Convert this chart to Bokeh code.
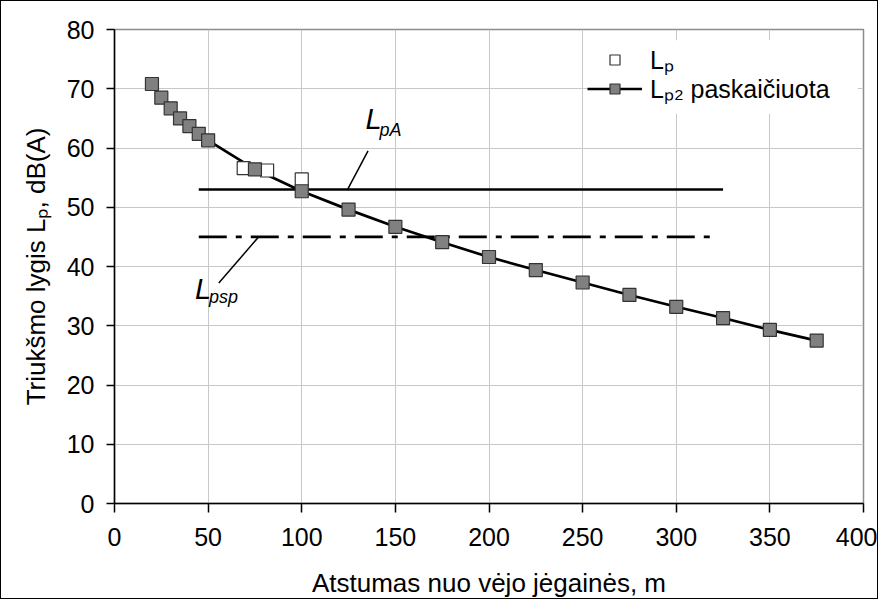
from bokeh.plotting import figure
from bokeh.models import Legend, LegendItem, Label, Range1d, FixedTicker, BoxAnnotation
from bokeh.embed import file_html
from bokeh.resources import INLINE

# ---- data ----
x_ticks = [0, 50, 100, 150, 200, 250, 300, 350, 400]
y_ticks = [0, 10, 20, 30, 40, 50, 60, 70, 80]

dist_calc = [20, 25, 30, 35, 40, 45, 50, 75, 100, 125, 150, 175, 200, 225, 250, 275, 300, 325, 350, 375]
lp2_calc = [70.8, 68.5, 66.7, 65.0, 63.7, 62.4, 61.3, 56.4, 52.7, 49.6, 46.7, 44.1, 41.6, 39.4, 37.3,
            35.2, 33.2, 31.3, 29.3, 27.5]

dist_meas = [69, 81.5, 100]
lp_meas = [56.6, 56.2, 54.7]

lpa_x = [45, 325]
lpa_y = [53, 53]
lpsp_x = [45, 320]
lpsp_y = [45, 45]

FONT = "Liberation Sans"

p = figure(width=878, height=599, output_backend="svg", toolbar_location=None,
           x_range=Range1d(0, 400), y_range=Range1d(0, 80),
           min_border_left=113, min_border_right=16, min_border_top=28, min_border_bottom=97)
p.styles = {"border": "1px solid black"}
p.background_fill_color = "white"
p.border_fill_color = "white"
p.outline_line_color = "#8c8c8c"
p.outline_line_width = 1.5

# axes
for ax in (p.xaxis, p.yaxis):
    ax.axis_line_color = "black"
    ax.axis_line_width = 1.5
    ax.major_tick_line_color = "black"
    ax.major_tick_line_width = 1.5
    ax.major_tick_in = 0
    ax.minor_tick_line_color = None
    ax.major_label_text_font = FONT
    ax.major_label_text_font_size = "25px"
    ax.major_label_text_color = "black"
    ax.axis_label_text_font = FONT
    ax.axis_label_text_font_style = "normal"
    ax.axis_label_text_color = "black"

p.xaxis.ticker = FixedTicker(ticks=x_ticks)
p.yaxis.ticker = FixedTicker(ticks=y_ticks)
p.xaxis.major_tick_out = 9
p.yaxis.major_tick_out = 8
p.xaxis.major_label_standoff = 15
p.yaxis.major_label_standoff = 12
p.xaxis.axis_label = "Atstumas nuo vėjo jėgainės, m"
p.yaxis.axis_label = "Triukšmo lygis Lₚ, dB(A)"
p.xaxis.axis_label_text_font_size = "26px"
p.yaxis.axis_label_text_font_size = "26px"
p.xaxis.axis_label_standoff = 19
p.yaxis.axis_label_standoff = 13

p.xgrid.ticker = FixedTicker(ticks=x_ticks)
p.ygrid.ticker = FixedTicker(ticks=y_ticks)
p.grid.grid_line_color = "#c8c8c8"
p.grid.grid_line_width = 1

# reference lines
p.line(lpa_x, lpa_y, line_color="black", line_width=2.5)
p.line(lpsp_x, lpsp_y, line_color="black", line_width=2.8, line_dash="28 9 6 9")

# calculated line + measured + calculated markers
calc_line = p.line(dist_calc, lp2_calc, line_color="black", line_width=2.7)
meas = p.scatter(dist_meas, lp_meas, marker="square", size=13, fill_color="white",
                 line_color="#333333", line_width=1.2)
calc_pts = p.scatter(dist_calc, lp2_calc, marker="square", size=13, fill_color="#808080",
                     line_color="#333333", line_width=1.2)

# leader lines for annotations
p.segment(x0=[135.4, 76.7], y0=[59.5, 44.9], x1=[124.3, 55.7], y1=[52.9, 37.2],
          line_color="black", line_width=1.5)

# annotation labels
p.add_layout(Label(x=134, y=62.3, y_offset=15, text="L", text_font=FONT, text_font_style="italic",
                   text_font_size="29px", text_baseline="alphabetic", text_color="black"))
p.add_layout(Label(x=134, y=62.3, x_offset=14, y_offset=4, text="pA", text_font=FONT,
                   text_font_style="italic", text_font_size="18px", text_baseline="alphabetic",
                   text_color="black"))
p.add_layout(Label(x=43, y=34.1, y_offset=12, text="L", text_font=FONT, text_font_style="italic",
                   text_font_size="29px", text_baseline="alphabetic", text_color="black"))
p.add_layout(Label(x=43, y=34.1, x_offset=14, y_offset=4, text="psp", text_font=FONT,
                   text_font_style="italic", text_font_size="18px", text_baseline="alphabetic",
                   text_color="black"))

# white backing box of the legend (hides grid behind it)
p.add_layout(BoxAnnotation(left=254, right=397, bottom=65.8, top=78.2, fill_color="white",
                           fill_alpha=1.0, line_color=None))


def make_legend(label, renderers, loc):
    lg = Legend(items=[LegendItem(label=label, renderers=renderers)], location=loc)
    lg.label_text_font = FONT
    lg.label_text_font_size = "25px"
    lg.label_text_color = "black"
    lg.label_height = 25
    lg.glyph_height = 25
    lg.glyph_width = 55
    lg.label_standoff = 8
    lg.spacing = 0
    lg.padding = 4
    lg.margin = 0
    lg.border_line_color = None
    lg.background_fill_alpha = 0.0
    return lg


p.add_layout(make_legend("Lₚ₂ paskaičiuota", [calc_line, calc_pts], (473, 398)), "center")
p.add_layout(make_legend("Lₚ", [meas], (473, 427)), "center")

open("out.html", "w").write(file_html(p, INLINE))
